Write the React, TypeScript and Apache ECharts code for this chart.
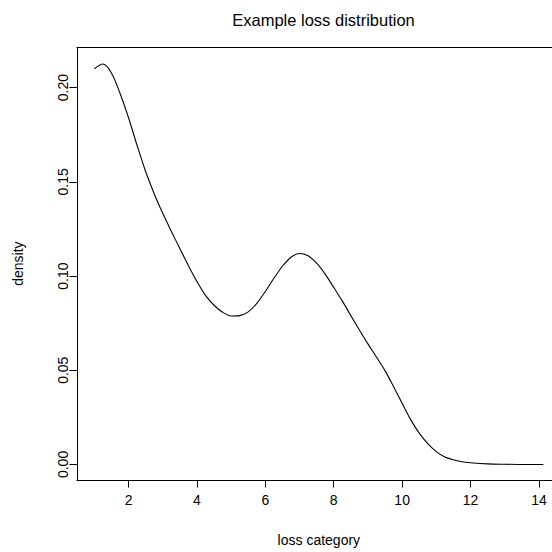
import React, { useEffect, useRef } from "react";
import * as echarts from "echarts";

const titleText = "Example loss distribution";
const xName = "loss category";
const yName = "density";
const xTicks = [2, 4, 6, 8, 10, 12, 14];
const yTicks = [0, 0.05, 0.1, 0.15, 0.2];
const lossX = [
  1.0, 1.25, 1.5, 1.75, 2.0, 2.25, 2.5, 2.75, 3.0, 3.25, 3.5, 3.75, 4.0, 4.25, 4.5, 4.75, 5.0, 5.25, 5.5, 5.75,
  6.0, 6.25, 6.5, 6.75, 7.0, 7.25, 7.5, 7.75, 8.0, 8.25, 8.5, 8.75, 9.0, 9.25, 9.5, 9.75, 10.0, 10.25, 10.5, 10.75,
  11.0, 11.25, 11.5, 11.75, 12.0, 12.5, 13.0, 13.5, 14.13,
];
const densityY = [
  0.21, 0.2125, 0.2078, 0.197, 0.184, 0.1693, 0.1555, 0.1437, 0.1333, 0.1238, 0.1146, 0.1056, 0.0971, 0.0897, 0.0845,
  0.0808, 0.0788, 0.079, 0.081, 0.0855, 0.0918, 0.0988, 0.1052, 0.11, 0.112, 0.1108, 0.1068, 0.101, 0.094, 0.0868,
  0.079, 0.0714, 0.064, 0.057, 0.0498, 0.0413, 0.0325, 0.0238, 0.0166, 0.011, 0.0068, 0.004, 0.0025, 0.0014, 0.0009,
  0.0003, 0.0001, 0.0, 0.0,
];

const FONT = "'Liberation Sans', Arial, Helvetica, sans-serif";
const W = 652;

export default function App() {
  const ref = useRef<HTMLDivElement>(null);
  useEffect(() => {
    if (!ref.current) return;
    const chart = echarts.init(ref.current, null, { renderer: "svg" });
    const data = lossX.map((x, i) => [x, densityY[i]]);
    const lineStyle = { color: "#000", width: 1 };
    chart.setOption({
      animation: false,
      backgroundColor: "#ffffff",
      textStyle: { fontFamily: FONT, color: "#000" },
      title: {
        text: titleText,
        left: 318.5,
        textAlign: "center",
        top: 6,
        textStyle: { fontFamily: FONT, fontSize: 16.5, fontWeight: "normal", color: "#000" },
      },
      grid: {
        left: 76.9,
        right: W - 560.8,
        top: 47.3,
        bottom: 552 - 481.3,
        show: false,
        containLabel: false,
      },
      xAxis: [
        {
          type: "value",
          position: "bottom",
          min: 0.49,
          max: 14.64,
          name: xName,
          nameLocation: "middle",
          nameGap: 53,
          nameTextStyle: { fontFamily: FONT, fontSize: 14, color: "#000" },
          axisLine: { show: true, onZero: false, lineStyle },
          axisTick: { show: true, length: 7.5, inside: false, customValues: xTicks, lineStyle: { color: "#000" } },
          axisLabel: {
            show: true,
            margin: 13,
            customValues: xTicks,
            fontFamily: FONT,
            fontSize: 14,
            color: "#000",
            formatter: (v: number) => String(v),
          },
          splitLine: { show: false },
        },
        {
          type: "value",
          position: "top",
          min: 0.49,
          max: 14.64,
          axisLine: { show: true, onZero: false, lineStyle },
          axisTick: { show: false },
          axisLabel: { show: false },
          splitLine: { show: false },
        },
      ],
      yAxis: [
        {
          type: "value",
          position: "left",
          min: -0.00825,
          max: 0.2214,
          name: yName,
          nameLocation: "middle",
          nameGap: 52,
          nameTextStyle: { fontFamily: FONT, fontSize: 14, color: "#000" },
          axisLine: { show: true, onZero: false, lineStyle },
          axisTick: { show: true, length: 7.5, inside: false, customValues: yTicks, lineStyle: { color: "#000" } },
          axisLabel: {
            show: true,
            rotate: 90,
            margin: 7,
            customValues: yTicks,
            fontFamily: FONT,
            fontSize: 14,
            color: "#000",
            formatter: (v: number) => v.toFixed(2),
          },
          splitLine: { show: false },
        },
      ],
      series: [
        {
          type: "line",
          data,
          xAxisIndex: 0,
          yAxisIndex: 0,
          showSymbol: false,
          symbol: "none",
          smooth: 0.3,
          lineStyle: { color: "#000", width: 1.1 },
          clip: false,
        },
      ],
    });
    return () => chart.dispose();
  }, []);
  return (
    <div style={{ position: "fixed", left: 0, top: 0, width: 552, height: 552, overflow: "hidden" }}>
      <div ref={ref} style={{ position: "absolute", left: 0, top: 0, width: W, height: 552 }} />
    </div>
  );
}
